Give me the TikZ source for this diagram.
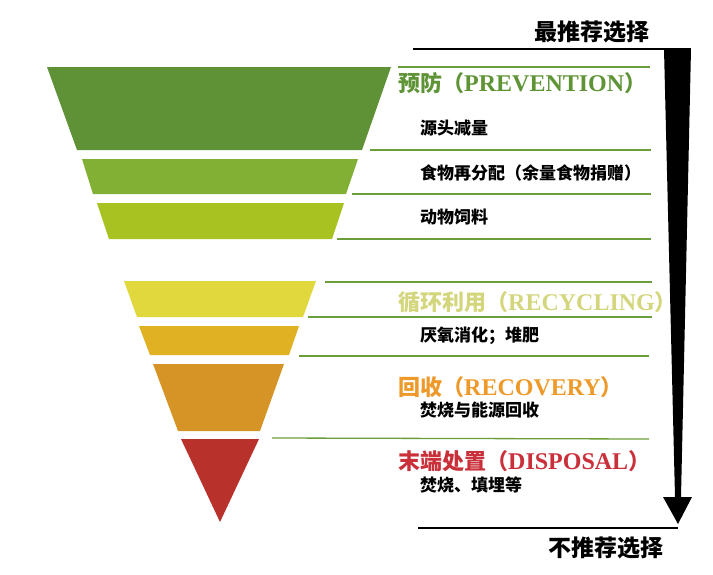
\documentclass[tikz,border=0pt]{standalone}
\usepackage{fontspec}
\setmainfont{Liberation Serif}
\newfontfamily\cjk{Noto Sans CJK SC}
\definecolor{tierA}{HTML}{5F9136}
\definecolor{tierB}{HTML}{82B034}
\definecolor{tierC}{HTML}{A8C221}
\definecolor{tierD}{HTML}{E1D83E}
\definecolor{tierE}{HTML}{E0B123}
\definecolor{tierF}{HTML}{D59425}
\definecolor{tierG}{HTML}{B8312A}
\definecolor{sepgreen}{HTML}{6B9E3A}
\definecolor{prevgreen}{HTML}{5E9436}
\definecolor{recycol}{HTML}{D3D67C}
\definecolor{recovcol}{HTML}{EE9A2A}
\definecolor{dispcol}{HTML}{C9303A}
\newcommand\headtext[2]{{\cjk #1（}{\fontsize{24}{24}\selectfont #2}{\cjk ）}}
\tikzset{
  head/.style={anchor=west,inner sep=0pt,font=\fontsize{22}{22}\selectfont\bfseries},
  sub/.style={anchor=west,inner sep=0pt,font=\cjk\fontsize{17}{17}\selectfont\bfseries},
  tag/.style={inner sep=0pt,font=\cjk\fontsize{23}{23}\selectfont\bfseries},
  sep/.style={draw=sepgreen,line width=1.3pt}
}

\begin{document}
\begin{tikzpicture}[x=1pt,y=-1pt]
\useasboundingbox (0,0) rectangle (713,574);
\fill[tierA] (47,67) -- (391,67) -- (362,150) -- (77,150) -- cycle;
\fill[tierB] (82,159) -- (358,159) -- (346,194) -- (93,194) -- cycle;
\fill[tierC] (97,203) -- (344,203) -- (332,239) -- (109,239) -- cycle;
\fill[tierD] (124,281) -- (316,281) -- (303,317) -- (137,317) -- cycle;
\fill[tierE] (139,326) -- (299,326) -- (289,355) -- (150,355) -- cycle;
\fill[tierF] (153,364) -- (284,364) -- (260,431) -- (178,431) -- cycle;
\fill[tierG] (181,439) -- (259,439) -- (220,522) -- cycle;

\draw[sep] (398,67) -- (650,67);
\draw[sep] (370,150) -- (651,150);
\draw[sep] (352,194) -- (651,194);
\draw[sep] (337,239) -- (651,239);
\draw[sep] (325,282) -- (652,282);
\draw[sep] (308,317) -- (652,317);
\draw[sep] (299,356) -- (649,356);
\draw[sep] (272,438) -- (649,439);

\path (398,83) node[head,text=prevgreen] (prev) {\headtext{预防}{PREVENTION}};
\path (420,128) node[sub] (reduce) {源头减量};
\path (420,173) node[sub] (donate) {食物再分配（余量食物捐赠）};
\path (420,217) node[sub] (feed) {动物饲料};
\path (398,302) node[head,text=recycol] (recyc) {\headtext{循环利用}{RECYCLING}};
\path (420,336) node[sub] (compost) {厌氧消化；堆肥};
\path (398,387) node[head,text=recovcol] (recov) {\headtext{回收}{RECOVERY}};
\path (420,410) node[sub] (burn) {焚烧与能源回收};
\path (398,461) node[head,text=dispcol] (disp) {\headtext{末端处置}{DISPOSAL}};
\path (420,485) node[sub] (landfill) {焚烧、填埋等};

\path (592,32) node[tag] (best) {最推荐选择};
\path (606,548) node[tag] (worst) {不推荐选择};
\draw[line width=1.5pt] (413,49) -- (691,49);
\draw[line width=1.5pt] (418,528) -- (678,528);
\fill (664,49) -- (691,49) -- (681,497) -- (692,497) -- (678,524) -- (663,497) -- (675,497) -- cycle;
\end{tikzpicture}
\end{document}
